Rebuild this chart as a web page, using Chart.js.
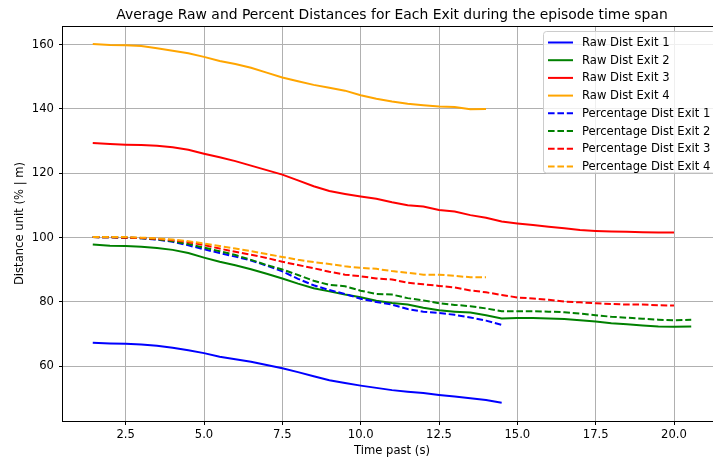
<!DOCTYPE html>
<html lang="en">
<head>
<meta charset="UTF-8">
<title>Average Raw and Percent Distances</title>
<script src="https://cdn.jsdelivr.net/npm/chart.js@4.4.1/dist/chart.umd.min.js"></script>
<style>
  body { margin: 0; padding: 0; background: #fff; overflow: hidden; }
  #wrap { width: 713px; height: 460px; overflow: hidden; }
  canvas { display: block; }
</style>
</head>
<body>
<div id="wrap"><canvas id="distChart" width="730" height="460"></canvas></div>
<script>
// time axis (s), shared by all series; shorter series stop early
const times = [1.45, 2.0, 2.5, 3.0, 3.5, 4.0, 4.5, 5.0, 5.5, 6.0, 6.5, 7.0, 7.5, 8.0, 8.5, 9.0, 9.5,
  10.0, 10.5, 11.0, 11.5, 12.0, 12.5, 13.0, 13.5, 14.0, 14.5, 15.0, 15.5, 16.0, 16.5, 17.0, 17.5,
  18.0, 18.5, 19.0, 19.5, 20.0, 20.55];

const rawExit1 = [67.3, 67.1, 67.0, 66.8, 66.4, 65.8, 65.0, 64.1, 63.0, 62.2, 61.4, 60.4, 59.4, 58.2,
  56.9, 55.7, 54.8, 54.0, 53.3, 52.6, 52.1, 51.7, 51.1, 50.6, 50.1, 49.5, 48.7];
const rawExit2 = [97.9, 97.5, 97.4, 97.2, 96.8, 96.2, 95.2, 93.8, 92.5, 91.4, 90.2, 88.8, 87.3, 85.7,
  84.3, 83.3, 82.3, 81.5, 80.4, 79.7, 79.2, 78.2, 77.4, 77.0, 76.7, 75.9, 74.9, 75.0, 75.0, 74.9,
  74.7, 74.3, 73.9, 73.4, 73.1, 72.7, 72.4, 72.3, 72.4];
const rawExit3 = [129.4, 129.1, 128.9, 128.8, 128.6, 128.1, 127.3, 126.1, 125.0, 123.8, 122.4, 121.0,
  119.6, 117.8, 116.0, 114.5, 113.6, 112.8, 112.1, 111.0, 110.1, 109.7, 108.6, 108.1, 107.0, 106.2,
  105.0, 104.4, 103.9, 103.4, 102.9, 102.4, 102.1, 101.9, 101.8, 101.7, 101.6, 101.6];
const rawExit4 = [160.2, 159.9, 159.8, 159.6, 158.9, 158.1, 157.3, 156.2, 154.9, 154.0, 152.8, 151.3,
  149.8, 148.6, 147.5, 146.6, 145.7, 144.3, 143.2, 142.3, 141.6, 141.2, 140.8, 140.6, 139.9, 140.0];

const pctExit1 = [100.2, 100.1, 100.0, 99.8, 99.4, 98.7, 97.6, 96.4, 95.2, 94.1, 92.9, 91.3, 89.5,
  87.2, 85.2, 83.7, 82.5, 81.0, 80.0, 79.2, 77.8, 77.0, 76.6, 76.0, 75.2, 74.2, 72.9];
const pctExit2 = [100.2, 100.1, 100.0, 99.8, 99.5, 98.9, 98.0, 96.9, 95.8, 94.6, 93.1, 91.5, 90.1,
  88.4, 86.6, 85.3, 84.9, 83.5, 82.5, 82.3, 81.2, 80.5, 79.6, 79.1, 78.7, 78.0, 77.1, 77.1, 77.1,
  77.0, 76.8, 76.4, 75.9, 75.4, 75.1, 74.8, 74.5, 74.3, 74.5];
const pctExit3 = [100.2, 100.1, 100.0, 99.9, 99.6, 99.2, 98.6, 97.7, 96.6, 95.6, 94.7, 93.7, 92.5,
  91.5, 90.5, 89.4, 88.5, 88.0, 87.3, 87.0, 86.0, 85.5, 85.0, 84.5, 83.6, 83.0, 82.2, 81.4, 81.1,
  80.7, 80.1, 79.9, 79.6, 79.4, 79.2, 79.2, 79.0, 78.9];
const pctExit4 = [100.2, 100.2, 100.2, 100.0, 99.8, 99.4, 98.9, 98.2, 97.4, 96.6, 95.8, 94.9, 94.0,
  93.1, 92.4, 91.8, 91.1, 90.6, 90.3, 89.6, 89.1, 88.5, 88.5, 88.1, 87.7, 87.7];

const xTicks = [2.5, 5.0, 7.5, 10.0, 12.5, 15.0, 17.5, 20.0];
const yTicks = [60, 80, 100, 120, 140, 160];

const seriesLabels = ['Raw Dist Exit 1', 'Raw Dist Exit 2', 'Raw Dist Exit 3', 'Raw Dist Exit 4',
  'Percentage Dist Exit 1', 'Percentage Dist Exit 2', 'Percentage Dist Exit 3', 'Percentage Dist Exit 4'];
const seriesValues = [rawExit1, rawExit2, rawExit3, rawExit4, pctExit1, pctExit2, pctExit3, pctExit4];
const exitColors = ['#0000ff', '#008000', '#ff0000', '#ffa500'];

const FONT = 'DejaVu Sans';
const LINE_W = 2;
const DASH = [6.6, 2.8];

const datasets = seriesValues.map((vals, i) => ({
  label: seriesLabels[i],
  data: vals.map((v, j) => ({ x: times[j], y: v })),
  borderColor: exitColors[i % 4],
  borderWidth: LINE_W,
  borderDash: i >= 4 ? DASH : [],
  pointRadius: 0,
  fill: false,
  tension: 0,
  order: 7 - i
}));

// matplotlib style frame, title, axis labels and legend
const decorations = {
  id: 'decorations',
  afterDraw(chart) {
    const ctx = chart.ctx;
    const a = chart.chartArea;
    ctx.save();

    // spines
    ctx.strokeStyle = '#000';
    ctx.lineWidth = 1;
    ctx.strokeRect(Math.round(a.left) - 0.5, Math.round(a.top) + 0.5,
      Math.round(a.right - a.left), Math.round(a.bottom - a.top));

    // title
    ctx.fillStyle = '#000';
    ctx.font = '13.9px "' + FONT + '"';
    ctx.textAlign = 'center';
    ctx.textBaseline = 'alphabetic';
    const cx = (a.left + a.right) / 2;
    ctx.fillText('Average Raw and Percent Distances for Each Exit during the episode time span', cx, 19);

    // axis labels
    ctx.font = '11.6px "' + FONT + '"';
    ctx.textBaseline = 'middle';
    ctx.fillText('Time past (s)', cx, 451);
    ctx.save();
    ctx.translate(20, (a.top + a.bottom) / 2);
    ctx.rotate(-Math.PI / 2);
    ctx.fillText('Distance unit (% | m)', 0, 0);
    ctx.restore();

    // legend
    const bx = 543.5, by = 31.5, bw = 172, bh = 141.5, r = 3;
    ctx.beginPath();
    ctx.moveTo(bx + r, by);
    ctx.lineTo(bx + bw - r, by);
    ctx.arcTo(bx + bw, by, bx + bw, by + r, r);
    ctx.lineTo(bx + bw, by + bh - r);
    ctx.arcTo(bx + bw, by + bh, bx + bw - r, by + bh, r);
    ctx.lineTo(bx + r, by + bh);
    ctx.arcTo(bx, by + bh, bx, by + bh - r, r);
    ctx.lineTo(bx, by + r);
    ctx.arcTo(bx, by, bx + r, by, r);
    ctx.closePath();
    ctx.fillStyle = 'rgba(255,255,255,0.8)';
    ctx.fill();
    ctx.strokeStyle = '#cccccc';
    ctx.stroke();

    ctx.textAlign = 'left';
    chart.data.datasets.forEach((ds, i) => {
      const ry = 42.5 + i * 17.7;
      ctx.beginPath();
      ctx.strokeStyle = ds.borderColor;
      ctx.lineWidth = LINE_W;
      ctx.setLineDash(ds.borderDash);
      ctx.moveTo(548, ry);
      ctx.lineTo(573, ry);
      ctx.stroke();
      ctx.setLineDash([]);
      ctx.fillStyle = '#000';
      ctx.fillText(ds.label, 582, ry + 0.5);
    });

    ctx.restore();
  }
};

Chart.defaults.font.family = FONT;
Chart.defaults.font.size = 11.6;
Chart.defaults.color = '#000';

new Chart(document.getElementById('distChart').getContext('2d'), {
  type: 'line',
  data: { datasets: datasets },
  options: {
    responsive: false,
    animation: false,
    layout: { padding: { top: 26, right: 9, bottom: 0, left: 0 } },
    plugins: {
      legend: { display: false },
      title: { display: false },
      tooltip: { enabled: false }
    },
    scales: {
      x: {
        type: 'linear',
        min: 0.5,
        max: 21.5,
        afterBuildTicks: axis => { axis.ticks = xTicks.map(v => ({ value: v })); },
        afterFit: axis => { axis.height = 39; },
        ticks: {
          autoSkip: false,
          maxRotation: 0,
          padding: 3,
          callback: v => Number(v).toFixed(1)
        },
        grid: { color: '#b0b0b0', lineWidth: 1, tickLength: 4, tickColor: '#000' },
        border: { display: false }
      },
      y: {
        type: 'linear',
        min: 43.0,
        max: 165.8,
        afterBuildTicks: axis => { axis.ticks = yTicks.map(v => ({ value: v })); },
        afterFit: axis => { axis.width = 63; },
        ticks: { autoSkip: false, padding: 5, callback: v => String(v) },
        grid: { color: '#b0b0b0', lineWidth: 1, tickLength: 4, tickColor: '#000' },
        border: { display: false }
      }
    }
  },
  plugins: [decorations]
});
</script>
</body>
</html>
